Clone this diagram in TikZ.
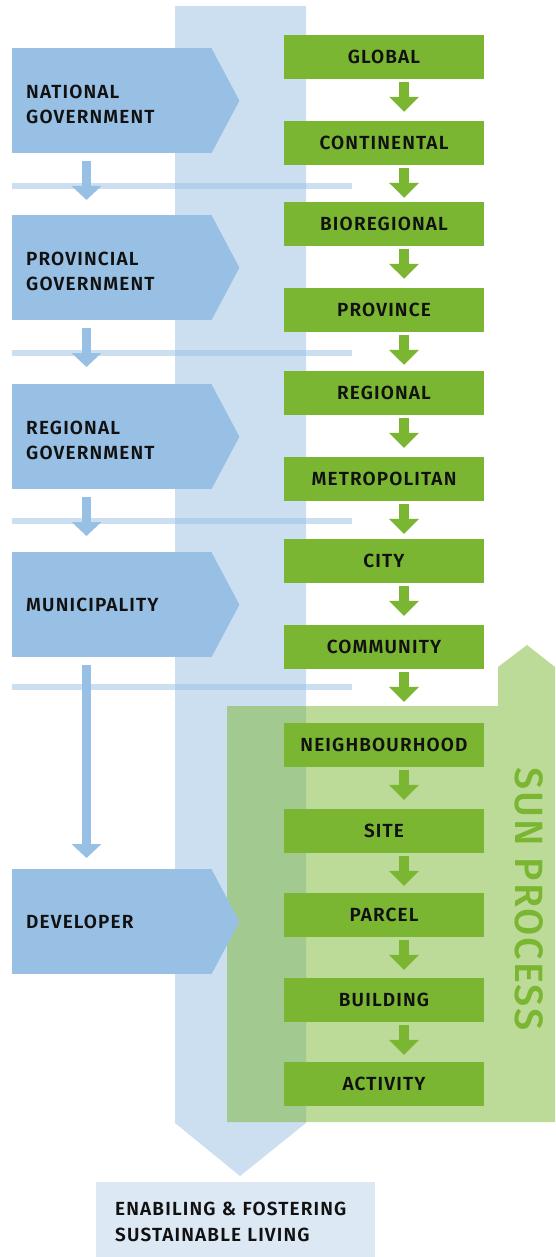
\documentclass[tikz,border=0pt]{standalone}
\usepackage{fontspec}
\setmainfont{Fira Sans}[BoldFont={Fira Sans SemiBold}, LetterSpace=6]
\newfontfamily\sunfont{Fira Sans Medium}[LetterSpace=5]
\usetikzlibrary{arrows.meta,calc}
\definecolor{pblue}{HTML}{98BFE4}
\definecolor{sgreen}{HTML}{7AB631}
\definecolor{boxblue}{HTML}{DCE8F4}
\definecolor{ink}{HTML}{111111}
\newcommand\labfont{\fontsize{19}{25}\selectfont\bfseries}
\tikzset{
  gov/.style={fill=pblue, minimum width=200pt, minimum height=105pt, text width=172pt,
    align=left, inner xsep=14pt, inner ysep=0pt, anchor=north west, font=\labfont, text=ink},
  gov2/.style={gov, text height=20pt, text depth=25pt},
  gbox/.style={fill=sgreen, minimum width=200pt, minimum height=44pt, inner sep=0pt,
    font=\labfont, text=ink},
  garrow/.style={draw=sgreen, line width=10.5pt, -{Triangle[width=29pt,length=15pt]},
    shorten <=3pt, shorten >=#1},
  garrow/.default=9pt,
  barrow/.style={draw=pblue, line width=9.5pt, -{Triangle[width=29pt,length=14pt]},
    shorten <=8pt, shorten >=#1},
  barrow/.default=15pt,
}
\begin{document}
\begin{tikzpicture}[x=1pt,y=-1pt]
\useasboundingbox (0,0) rectangle (555,1257);
% big vertical band
\fill[pblue,opacity=0.5] (175,6) -- (306,6) -- (306,1123) -- (240,1176) -- (175,1123) -- cycle;
% horizontal separators
\foreach \yy in {186,353,521,687}
  \fill[pblue,opacity=0.5] (12,\yy-3) rectangle (352,\yy+3);
% SUN process region
\fill[sgreen,opacity=0.5] (227,706) -- (498,706) -- (498,667) -- (527,645) -- (555,667)
  -- (555,1122) -- (227,1122) -- cycle;
\node[rotate=-90, text=sgreen, font=\sunfont\fontsize{39.5}{39.5}\selectfont, inner sep=0pt] (sun) at (529,899) {SUN PROCESS};
% government levels
\node[gov2] (nat) at (12,48) {NATIONAL\\GOVERNMENT};
\node[gov2] (prov) at (12,215) {PROVINCIAL\\GOVERNMENT};
\node[gov2] (reg) at (12,384) {REGIONAL\\GOVERNMENT};
\node[gov] (mun) at (12,552) {MUNICIPALITY};
\node[gov] (dev) at (12,869) {DEVELOPER};
\foreach \n in {nat,prov,reg,mun,dev}
  \fill[pblue] ([xshift=-1pt]\n.north east) -- ($(\n.east)+(27,0)$) -- ([xshift=-1pt]\n.south east) -- cycle;
\draw[barrow=15pt] ([xshift=74.5pt]nat.south west) -- ([xshift=74.5pt]prov.north west);
\draw[barrow=17pt] ([xshift=74.5pt]prov.south west) -- ([xshift=74.5pt]reg.north west);
\draw[barrow=16pt] ([xshift=74.5pt]reg.south west) -- ([xshift=74.5pt]mun.north west);
\draw[barrow=11pt] ([xshift=74.5pt]mun.south west) -- ([xshift=74.5pt]dev.north west);
% spatial levels
\node[gbox] (global) at (384,57) {GLOBAL};
\node[gbox] (cont) at (384,143) {CONTINENTAL};
\node[gbox] (bio) at (384,224) {BIOREGIONAL};
\node[gbox] (provl) at (384,310) {PROVINCE};
\node[gbox] (regl) at (384,393) {REGIONAL};
\node[gbox] (metro) at (384,479) {METROPOLITAN};
\node[gbox] (city) at (384,561) {CITY};
\node[gbox] (comm) at (384,647) {COMMUNITY};
\node[gbox] (neigh) at (384,745) {NEIGHBOURHOOD};
\node[gbox] (site) at (384,831) {SITE};
\node[gbox] (parcel) at (384,915) {PARCEL};
\node[gbox] (build) at (384,1000) {BUILDING};
\node[gbox] (act) at (384,1084) {ACTIVITY};
\draw[garrow=9pt] ([xshift=20pt]global.south) -- ([xshift=20pt]cont.north);
\draw[garrow=4pt] ([xshift=20pt]cont.south) -- ([xshift=20pt]bio.north);
\draw[garrow=9pt] ([xshift=20pt]bio.south) -- ([xshift=20pt]provl.north);
\draw[garrow=6pt] ([xshift=20pt]provl.south) -- ([xshift=20pt]regl.north);
\draw[garrow=9pt] ([xshift=20pt]regl.south) -- ([xshift=20pt]metro.north);
\draw[garrow=5pt] ([xshift=20pt]metro.south) -- ([xshift=20pt]city.north);
\draw[garrow=9pt] ([xshift=20pt]city.south) -- ([xshift=20pt]comm.north);
\draw[garrow=21pt] ([xshift=20pt]comm.south) -- ([xshift=20pt]neigh.north);
\draw[garrow=9pt] ([xshift=20pt]neigh.south) -- ([xshift=20pt]site.north);
\draw[garrow=7pt] ([xshift=20pt]site.south) -- ([xshift=20pt]parcel.north);
\draw[garrow=8pt] ([xshift=20pt]parcel.south) -- ([xshift=20pt]build.north);
\draw[garrow=7pt] ([xshift=20pt]build.south) -- ([xshift=20pt]act.north);
% outcome
\node[fill=boxblue, minimum width=279pt, minimum height=75pt, text width=241pt, inner xsep=19pt,
  inner ysep=0pt, align=left, anchor=north west, font=\fontsize{19}{26}\selectfont\bfseries, text=ink,
  text height=17pt, text depth=26pt] (enab) at (96,1182)
  {ENABILING \& FOSTERING\\SUSTAINABLE LIVING};
\end{tikzpicture}
\end{document}
